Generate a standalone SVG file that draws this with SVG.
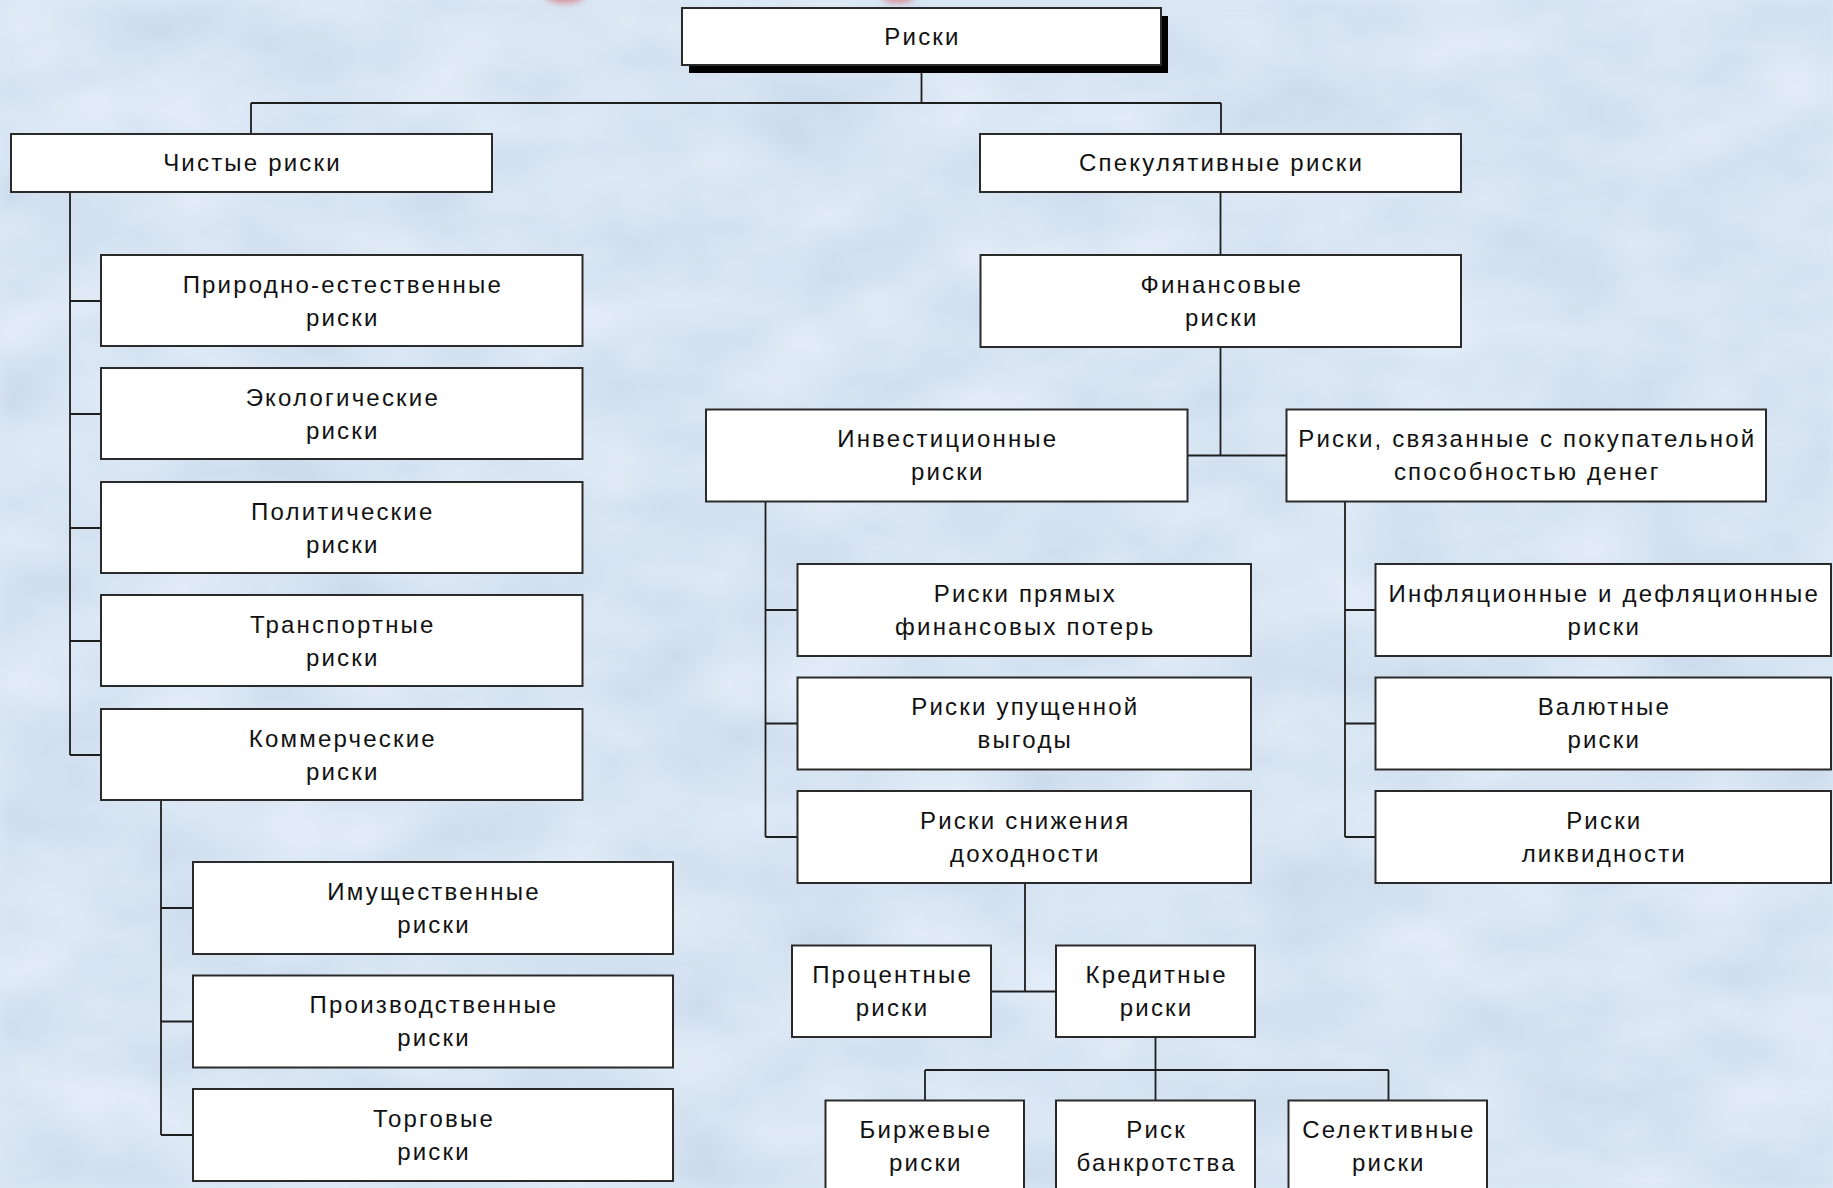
<svg xmlns="http://www.w3.org/2000/svg" width="1833" height="1188" viewBox="0 0 1833 1188">
<defs>
<filter id="mottle" x="0" y="0" width="100%" height="100%" color-interpolation-filters="sRGB">
<feTurbulence type="fractalNoise" baseFrequency="0.008 0.014" numOctaves="3" seed="11"/>
<feColorMatrix type="matrix" values="0.13 0 0 0 0.78  0.10 0 0 0 0.845  0.07 0 0 0 0.915  0 0 0 0 1"/>
<feGaussianBlur stdDeviation="5"/>
</filter>
<filter id="soft" x="-50%" y="-50%" width="200%" height="200%"><feGaussianBlur stdDeviation="3"/></filter>
<style>
.box{fill:#ffffff;stroke:#2a2a2a;stroke-width:2}
.t{font-family:"Liberation Sans",Arial,sans-serif;font-size:24px;letter-spacing:2.2px;fill:#111;text-anchor:middle}
.c{fill:none;stroke:#1e1e1e;stroke-width:1.8}
</style>
</defs>
<rect x="0" y="0" width="1833" height="1188" fill="#d9e6f4"/>
<rect x="0" y="0" width="1833" height="1188" filter="url(#mottle)"/>
<ellipse cx="565" cy="-5" rx="20" ry="8" fill="#d46a70" opacity="0.7" filter="url(#soft)"/>
<ellipse cx="898" cy="-5" rx="17" ry="8" fill="#d46a70" opacity="0.7" filter="url(#soft)"/>

<g id="connectors">
<path class="c" d="M921.5 65V103M251 103H1221M251 103V134M1221 103V134"/>
<path class="c" d="M70 192V755M70 301H101M70 414H101M70 528H101M70 641H101M70 755H101"/>
<path class="c" d="M161 800V1135M161 908H193M161 1021.5H193M161 1135H193"/>
<path class="c" d="M1220.5 192V255M1220.5 347V455.5M1187.5 455.5H1286.5"/>
<path class="c" d="M765.5 501.5V837M765.5 610H797.5M765.5 723.5H797.5M765.5 837H797.5"/>
<path class="c" d="M1345 501.5V837M1345 610H1375.5M1345 723.5H1375.5M1345 837H1375.5"/>
<path class="c" d="M1025 883V991.5M991 991.5H1056"/>
<path class="c" d="M1155.5 1037V1070M925 1070H1388.5M925 1070V1100.5M1155.5 1070V1100.5M1388.5 1070V1100.5"/>
</g>

<g id="n-risks">
<rect x="689" y="16" width="479" height="57" fill="#000"/>
<rect class="box" x="682" y="8" width="479" height="57"/>
<text class="t" x="922.5" y="45">Риски</text>
</g>
<g id="n-pure">
<rect class="box" x="11" y="134" width="481" height="58"/>
<text class="t" x="252.5" y="171">Чистые риски</text>
</g>
<g id="n-spec">
<rect class="box" x="980" y="134" width="481" height="58"/>
<text class="t" x="1221.5" y="171">Спекулятивные риски</text>
</g>

<g id="n-nature">
<rect class="box" x="101" y="255" width="481.5" height="91"/>
<text class="t" x="342.8" y="292.5">Природно-естественные</text>
<text class="t" x="342.8" y="325.5">риски</text>
</g>
<g id="n-eco">
<rect class="box" x="101" y="368" width="481.5" height="91"/>
<text class="t" x="342.8" y="405.5">Экологические</text>
<text class="t" x="342.8" y="438.5">риски</text>
</g>
<g id="n-polit">
<rect class="box" x="101" y="482" width="481.5" height="91"/>
<text class="t" x="342.8" y="519.5">Политические</text>
<text class="t" x="342.8" y="552.5">риски</text>
</g>
<g id="n-transport">
<rect class="box" x="101" y="595" width="481.5" height="91"/>
<text class="t" x="342.8" y="632.5">Транспортные</text>
<text class="t" x="342.8" y="665.5">риски</text>
</g>
<g id="n-commerce">
<rect class="box" x="101" y="709" width="481.5" height="91"/>
<text class="t" x="342.8" y="746.5">Коммерческие</text>
<text class="t" x="342.8" y="779.5">риски</text>
</g>

<g id="n-property">
<rect class="box" x="193" y="862" width="480" height="92"/>
<text class="t" x="434" y="899.5">Имущественные</text>
<text class="t" x="434" y="932.5">риски</text>
</g>
<g id="n-production">
<rect class="box" x="193" y="975.5" width="480" height="92"/>
<text class="t" x="434" y="1013">Производственные</text>
<text class="t" x="434" y="1046">риски</text>
</g>
<g id="n-trade">
<rect class="box" x="193" y="1089" width="480" height="92"/>
<text class="t" x="434" y="1126.5">Торговые</text>
<text class="t" x="434" y="1159.5">риски</text>
</g>

<g id="n-finance">
<rect class="box" x="980.5" y="255" width="480.5" height="92"/>
<text class="t" x="1221.8" y="292.5">Финансовые</text>
<text class="t" x="1221.8" y="325.5">риски</text>
</g>
<g id="n-invest">
<rect class="box" x="706" y="409.5" width="481.5" height="92"/>
<text class="t" x="947.8" y="447">Инвестиционные</text>
<text class="t" x="947.8" y="480">риски</text>
</g>
<g id="n-purchasing">
<rect class="box" x="1286.5" y="409.5" width="479.5" height="92"/>
<text class="t" x="1527.3" y="447">Риски, связанные с покупательной</text>
<text class="t" x="1527.3" y="480">способностью денег</text>
</g>

<g id="n-direct">
<rect class="box" x="797.5" y="564" width="453.5" height="92"/>
<text class="t" x="1025.3" y="601.5">Риски прямых</text>
<text class="t" x="1025.3" y="634.5">финансовых потерь</text>
</g>
<g id="n-lost">
<rect class="box" x="797.5" y="677.5" width="453.5" height="92"/>
<text class="t" x="1025.3" y="715">Риски упущенной</text>
<text class="t" x="1025.3" y="748">выгоды</text>
</g>
<g id="n-yield">
<rect class="box" x="797.5" y="791" width="453.5" height="92"/>
<text class="t" x="1025.3" y="828.5">Риски снижения</text>
<text class="t" x="1025.3" y="861.5">доходности</text>
</g>

<g id="n-inflation">
<rect class="box" x="1375.5" y="564" width="455.5" height="92"/>
<text class="t" x="1604.3" y="601.5">Инфляционные и дефляционные</text>
<text class="t" x="1604.3" y="634.5">риски</text>
</g>
<g id="n-currency">
<rect class="box" x="1375.5" y="677.5" width="455.5" height="92"/>
<text class="t" x="1604.3" y="715">Валютные</text>
<text class="t" x="1604.3" y="748">риски</text>
</g>
<g id="n-liquidity">
<rect class="box" x="1375.5" y="791" width="455.5" height="92"/>
<text class="t" x="1604.3" y="828.5">Риски</text>
<text class="t" x="1604.3" y="861.5">ликвидности</text>
</g>

<g id="n-interest">
<rect class="box" x="792" y="945.5" width="199" height="91.5"/>
<text class="t" x="892.6" y="983">Процентные</text>
<text class="t" x="892.6" y="1016">риски</text>
</g>
<g id="n-credit">
<rect class="box" x="1056" y="945.5" width="199" height="91.5"/>
<text class="t" x="1156.6" y="983">Кредитные</text>
<text class="t" x="1156.6" y="1016">риски</text>
</g>

<g id="n-exchange">
<rect class="box" x="825.5" y="1100.5" width="198.5" height="92"/>
<text class="t" x="925.9" y="1138">Биржевые</text>
<text class="t" x="925.9" y="1171">риски</text>
</g>
<g id="n-bankruptcy">
<rect class="box" x="1056" y="1100.5" width="199" height="92"/>
<text class="t" x="1156.6" y="1138">Риск</text>
<text class="t" x="1156.6" y="1171">банкротства</text>
</g>
<g id="n-selective">
<rect class="box" x="1288.5" y="1100.5" width="198.5" height="92"/>
<text class="t" x="1388.9" y="1138">Селективные</text>
<text class="t" x="1388.9" y="1171">риски</text>
</g>
</svg>
